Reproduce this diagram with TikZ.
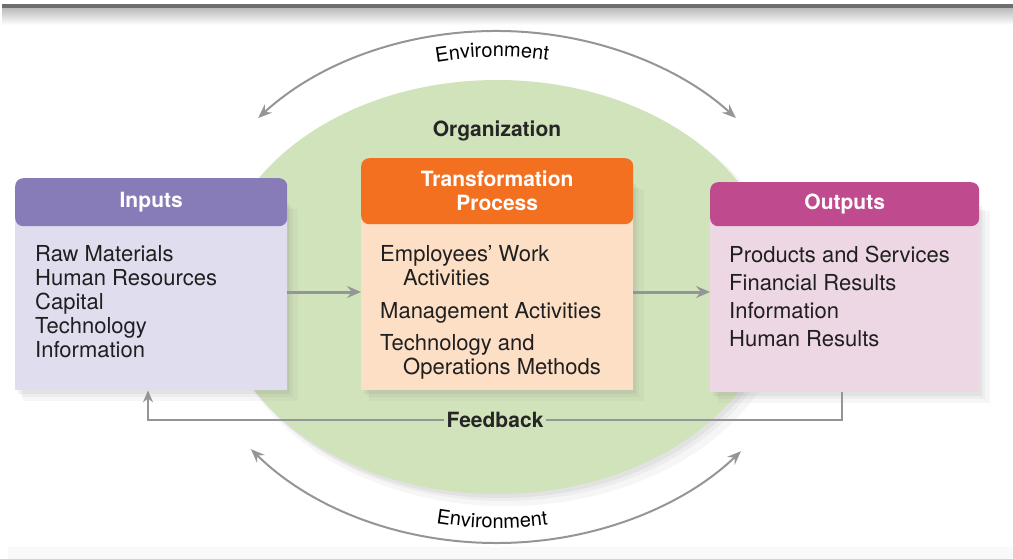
\documentclass[tikz,border=0pt]{standalone}
\usepackage{fontspec}
\setmainfont{TeX Gyre Heros}
\usetikzlibrary{positioning,shadows,arrows.meta,decorations.text,calc,shapes.geometric}
\definecolor{orggreen}{HTML}{D1E3BB}
\definecolor{inhead}{HTML}{877BB8}
\definecolor{inbody}{HTML}{E0DDEF}
\definecolor{trhead}{HTML}{F37021}
\definecolor{trbody}{HTML}{FDDFC6}
\definecolor{outhead}{HTML}{C04A8E}
\definecolor{outbody}{HTML}{EDD7E4}
\definecolor{arrowgray}{HTML}{939598}
\definecolor{bargray}{HTML}{6D6E71}
\newcommand\envfont{\fontsize{20}{24}\selectfont}

\begin{document}
\begin{tikzpicture}[x=1pt,y=-1pt,
  softshadow/.style={
    drop shadow={opacity=0.07,shadow xshift=9pt,shadow yshift=-10pt,shadow scale=1.01},
    drop shadow={opacity=0.08,shadow xshift=6pt,shadow yshift=-7pt},
    drop shadow={opacity=0.10,shadow xshift=3pt,shadow yshift=-4pt}},
  head/.style={rounded corners=8pt, text=white, font=\bfseries\fontsize{21}{24}\selectfont,
    align=center, inner sep=0pt, anchor=north west},
  body/.style={anchor=north west, inner sep=0pt, softshadow},
  items/.style={anchor=north west, align=left, inner sep=0pt,
    font=\fontsize{22}{24}\selectfont, text=black!88},
  label/.style={font=\bfseries\fontsize{21}{24}\selectfont, text=black!85},
  flow/.style={-{Stealth[length=14pt,width=12pt,inset=5pt]}, line width=3pt, draw=arrowgray},
  env/.style={{Stealth[length=14pt,width=11pt,inset=5pt]}-{Stealth[length=14pt,width=11pt,inset=5pt]},
    line width=2pt, draw=arrowgray}
  ]
  \useasboundingbox (0,0) rectangle (1013,559);

  % frame bars
  \fill[bargray] (2,4) rectangle (1013,9);
  \shade[top color=black!25, bottom color=white] (2,9) rectangle (1013,25);
  \fill[black!2.5] (8,547) rectangle (1013,559);

  % organization
  \coordinate (orgc) at (497,287);
  \node[ellipse, fill=orggreen, inner sep=0pt, minimum width=560pt, minimum height=414pt,
    softshadow] (org) at (orgc) {};
  \node[label] (orglabel) at (497,131) {Organization};

  % environment
  \draw[env] ($(orgc)+(-138.7:318 and 256)$) arc[start angle=-138.7, end angle=-41.3, x radius=318, y radius=256];
  \draw[env] ($(orgc)+(140.7:318 and 256)$) arc[start angle=140.7, end angle=39.9, x radius=318, y radius=256];
  \path[decorate, decoration={text along path, text={|\envfont|Environment}, text align=center}]
    ($(orgc)+(-121:290 and 230)$) arc[start angle=-121, end angle=-61, x radius=290, y radius=230];
  \path[decorate, decoration={text along path, text={|\envfont|Environment}, text align=center}]
    ($(orgc)+(121:300 and 241)$) arc[start angle=121, end angle=61, x radius=300, y radius=241];

  % boxes
  \node[body, fill=inbody, minimum width=272pt, minimum height=190pt] (inbox) at (15,200) {};
  \node[head, fill=inhead, minimum width=272pt, minimum height=48pt] (inputs) at (15,178) {Inputs};
  \node[items] (initems) at (35,245) {Raw Materials\\Human Resources\\Capital\\Technology\\Information};

  \node[body, fill=trbody, minimum width=272pt, minimum height=210pt] (trbox) at (361,180) {};
  \node[head, fill=trhead, minimum width=272pt, minimum height=66pt] (transf) at (361,158) {Transformation\\Process};
  \node[items] (tritems) at (380,245) {Employees’ Work\\\hspace*{23pt}Activities\\[9pt]
    Management Activities\\[8pt]Technology and\\\hspace*{23pt}Operations Methods};

  \node[body, fill=outbody, minimum width=269pt, minimum height=190pt] (outbox) at (710,202) {};
  \node[head, fill=outhead, minimum width=269pt, minimum height=44pt] (outputs) at (710,182) {Outputs};
  \node[items, font=\fontsize{22}{28}\selectfont] (outitems) at (729,246)
    {Products and Services\\Financial Results\\Information\\Human Results};

  % flow
  \coordinate (flowrow) at (0,292);
  \draw[flow] (inbox.east |- flowrow) -- (trbox.west |- flowrow);
  \draw[flow] (trbox.east |- flowrow) -- (outbox.west |- flowrow);

  % feedback
  \node[label, inner sep=2pt] (feedback) at (495,420) {Feedback};
  \draw[arrowgray, line width=2.5pt] (feedback.east) -| ($(outbox.south west)+(132,0)$);
  \draw[arrowgray, line width=2.5pt, -{Stealth[length=12pt,width=10pt,inset=4pt]}]
    (feedback.west) -| ($(inbox.south west)+(133,0)$);
\end{tikzpicture}
\end{document}
